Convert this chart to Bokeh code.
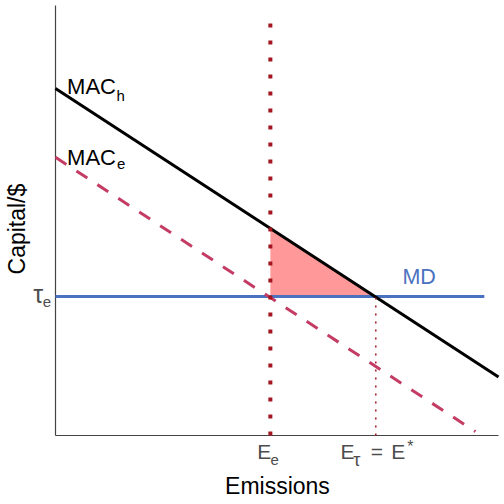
from math import pi
from bokeh.plotting import figure
from bokeh.models import Label, Range1d
from bokeh.embed import file_html
from bokeh.resources import INLINE

# curves (abstract units, 0..100)
mac_h_x = [0.0, 100.0]
mac_h_y = [80.7, 13.6]
mac_e_x = [0.0, 94.8]
mac_e_y = [64.7, 0.9]
md_x = [0.0, 96.8]
tau_e = 32.3
e_e = 48.5
e_tau = 72.3
e_e_top = 96.5

# area between MAC_h and MD
area_x = [e_e, e_e, e_tau]
area_y = [tau_e, 48.2, tau_e]

# axis extents
x_axis_end = 100.0
y_axis_end = 100.0

md_label_x = 78.3

FONT = "Liberation Sans"
GREY = "#4d4d4d"
DARKRED = "#A31621"

# the frame fills the whole canvas so that labels outside the axes are not clipped
p = figure(width=504, height=504, output_backend="svg", toolbar_location=None,
           x_range=Range1d(-12.415, 101.35), y_range=Range1d(-16.05, 101.16),
           min_border=0)
p.outline_line_color = None
p.grid.grid_line_color = None
p.axis.visible = False
p.background_fill_color = "white"

# axis lines
p.line([0, 0], [0, y_axis_end], line_color="#444444", line_width=1.2)
p.line([0, x_axis_end], [0, 0], line_color="#444444", line_width=1.2)

p.patch(area_x, area_y, fill_color="#FF9999", line_color=None)
p.line(md_x, [tau_e, tau_e], line_color="#4A72C0", line_width=3)
p.line(mac_e_x, mac_e_y, line_color="#C43C64", line_width=3, line_dash="13 12")
p.line(mac_h_x, mac_h_y, line_color="black", line_width=3)
p.line([e_e, e_e], [0, e_e_top], line_color=DARKRED, line_width=4, line_dash="4 13")
p.line([e_tau, e_tau], [0, tau_e], line_color=DARKRED, line_width=1.5, line_dash="2 6")


def lab(text, x, y, dx, dy, size, color="black", align="left", angle=0):
    # bokeh sits the text a bit lower than the given baseline, lift it back
    lift = 0.32 * float(size[:-2])
    if angle:
        dx -= lift
    else:
        dy += lift
    p.add_layout(Label(x=x, y=y, x_offset=dx, y_offset=dy, text=text, text_font=FONT,
                       text_font_size=size, text_color=color, text_align=align,
                       text_baseline="alphabetic", angle=angle))


# y tick: tau_e
lab("τ", 0, tau_e, -12.5, -5, "25px", GREY, "right")
lab("e", 0, tau_e, -4.5, -10, "15px", GREY, "right")
# x tick: E_e
lab("E", e_e, 0, -13.2, -22.7, "21px", GREY)
lab("e", e_e, 0, 0.2, -29, "15px", GREY)
# x tick: E_tau = E*
lab("E", e_tau, 0, -35.2, -22.7, "21px", GREY)
lab("τ", e_tau, 0, -22.5, -30, "18px", GREY)
lab("=", e_tau, 0, -5, -22.7, "21px", GREY)
lab("E", e_tau, 0, 15.5, -22.7, "21px", GREY)
lab("*", e_tau, 0, 31.5, -16.5, "16px", GREY)

# curve labels
lab("MAC", 0, mac_h_y[0], 11.6, -5.3, "22px")
lab("h", 0, mac_h_y[0], 61, -12, "15px")
lab("MAC", 0, mac_e_y[0], 11.6, -7.3, "22px")
lab("e", 0, mac_e_y[0], 61.5, -11.5, "15px")
lab("MD", md_label_x, tau_e, 0, 12.7, "21.5px", "#4A72C0")

# axis titles
lab("Emissions", 50.1, 0, 0, -58.3, "23px", align="center")
lab("Capital/$", 0, 48.0, -31, 0, "23px", align="center", angle=pi / 2)

open("out.html", "w").write(file_html(p, INLINE))
